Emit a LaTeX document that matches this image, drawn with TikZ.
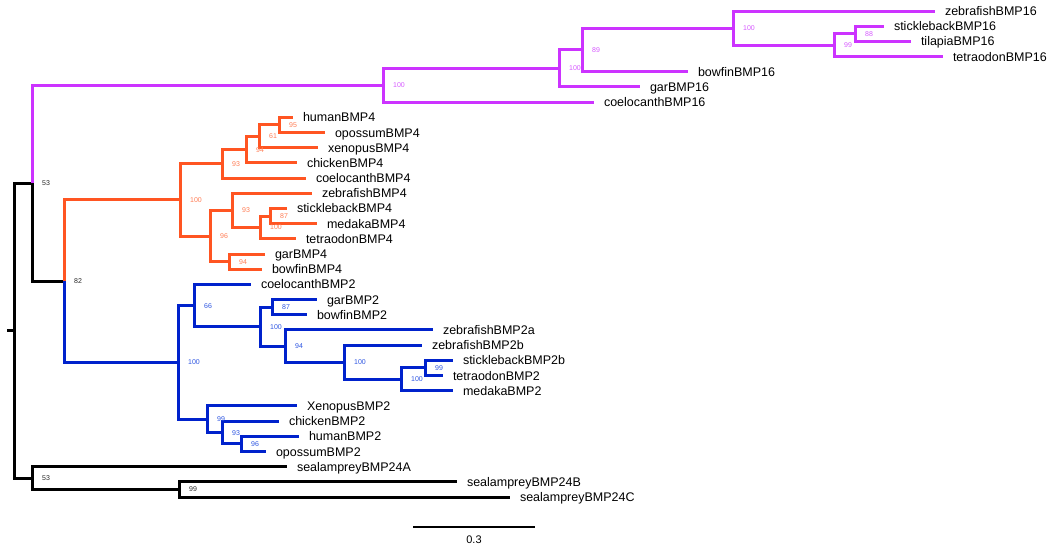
\documentclass[tikz,border=0pt]{standalone}
\usepackage{fontspec}
\newfontfamily\arialfont{Liberation Sans}
\usepackage{tikz}
\definecolor{sixteen}{RGB}{204,51,255}
\definecolor{four}{RGB}{255,85,34}
\definecolor{two}{RGB}{0,34,204}
\definecolor{sixteenlab}{RGB}{214,90,255}
\definecolor{fourlab}{RGB}{255,125,85}
\definecolor{twolab}{RGB}{45,85,225}
\definecolor{blacklab}{RGB}{40,40,40}
\tikzset{
	br/.style={line width=3pt},
	leaf/.style={anchor=west, inner xsep=10pt, inner ysep=0pt, outer sep=0pt, text height=9pt, text depth=0pt, font=\arialfont\fontsize{12.5}{14}\selectfont},
	bs/.style={anchor=west, inner sep=0pt, xshift=10pt, text height=5pt, text depth=0pt, font=\arialfont\fontsize{7}{8}\selectfont},
}

\begin{document}
\begin{tikzpicture}[x=1pt, y=-15.19pt]
		\useasboundingbox (0,0.2758) rectangle (1050,36.35);
		% leaves: name / end of branch / row / label
		\foreach \n/\x/\r/\t in {zfS/935/1/zebrafishBMP16, stS/884/2/sticklebackBMP16, tiS/911/3/tilapiaBMP16,
			teS/943/4/tetraodonBMP16, bfS/688/5/bowfinBMP16, gaS/640/6/garBMP16, coS/594/7/coelocanthBMP16,
			huF/293/8/humanBMP4, opF/325/9/opossumBMP4, xeF/318/10/xenopusBMP4, chF/297/11/chickenBMP4,
			coF/306/12/coelocanthBMP4, zfF/312/13/zebrafishBMP4, stF/287/14/sticklebackBMP4, meF/317/15/medakaBMP4,
			teF/296/16/tetraodonBMP4, gaF/265/17/garBMP4, bfF/262/18/bowfinBMP4,
			coT/251/19/coelocanthBMP2, gaT/317/20/garBMP2, bfT/307/21/bowfinBMP2, zaT/433/22/zebrafishBMP2a,
			zbT/422/23/zebrafishBMP2b, stT/453/24/sticklebackBMP2b, teT/443/25/tetraodonBMP2, meT/453/26/medakaBMP2,
			xeT/297/27/XenopusBMP2, chT/279/28/chickenBMP2, huT/299/29/humanBMP2, opT/266/30/opossumBMP2,
			laA/287/31/sealampreyBMP24A, laB/457/32/sealampreyBMP24B, laC/510/33/sealampreyBMP24C}
			\node[leaf] (\n) at (\x,\r) {\t};
		% inner nodes (row = mean of the children)
		\coordinate (stub) at (7,22.04);
		\coordinate (k0) at (14,22.04);
		\coordinate (k1) at (32,12.34);
		\coordinate (k2) at (64,18.78);
		\coordinate (k3) at (32,31.75);
		\coordinate (k4) at (179,32.5);
		\coordinate (m1) at (383,5.89);  \coordinate (m2) at (559,4.78);  \coordinate (m3) at (582,3.5625);
		\coordinate (m4) at (733,2.125); \coordinate (m5) at (834,3.25);  \coordinate (m6) at (855,2.5);
		\coordinate (o1) at (180,13.4375); \coordinate (o2) at (222,11.0625); \coordinate (o3) at (246,10.125);
		\coordinate (o4) at (259,9.25);    \coordinate (o5) at (279,8.5);     \coordinate (o6) at (210,15.8125);
		\coordinate (o7) at (232,14.125);  \coordinate (o8) at (260,15.25);   \coordinate (o9) at (270,14.5);
		\coordinate (o10) at (229,17.5);
		\coordinate (b1) at (178,24.13);  \coordinate (b2) at (194,20.39);  \coordinate (b3) at (260,21.78);
		\coordinate (b4) at (272,20.5);   \coordinate (b5) at (285,23.0625); \coordinate (b6) at (344,24.125);
		\coordinate (b7) at (401,25.25);  \coordinate (b8) at (425,24.5);   \coordinate (b9) at (207,27.875);
		\coordinate (b10) at (222,28.75); \coordinate (b11) at (241,29.5);
		% branches
		\draw[br] (stub) -- (k0);
		\foreach \p/\c in {k0/k1, k0/k3, k1/k2, k3/laA, k3/k4, k4/laB, k4/laC}
			\draw[br] (\p) |- (\c);
		\foreach \p/\c in {k1/m1, m1/m2, m1/coS, m2/m3, m2/gaS, m3/m4, m3/bfS, m4/zfS, m4/m5, m5/m6, m5/teS, m6/stS, m6/tiS}
			\draw[br, sixteen] (\p) |- (\c);
		\foreach \p/\c in {k2/o1, o1/o2, o1/o6, o2/o3, o2/coF, o3/o4, o3/chF, o4/o5, o4/xeF, o5/huF, o5/opF,
			o6/o7, o6/o10, o7/zfF, o7/o8, o8/o9, o8/teF, o9/stF, o9/meF, o10/gaF, o10/bfF}
			\draw[br, four] (\p) |- (\c);
		\foreach \p/\c in {k2/b1, b1/b2, b1/b9, b2/coT, b2/b3, b3/b4, b3/b5, b4/gaT, b4/bfT, b5/zaT, b5/b6,
			b6/zbT, b6/b7, b7/b8, b7/meT, b8/stT, b8/teT, b9/xeT, b9/b10, b10/chT, b10/b11, b11/huT, b11/opT}
			\draw[br, two] (\p) |- (\c);
		% bootstrap values
		\foreach \n/\v in {k1/53, k2/82, k3/53, k4/99}
			\node[bs, blacklab] at (\n) {\v};
		\foreach \n/\v in {m1/100, m2/100, m3/89, m4/100, m5/99, m6/88}
			\node[bs, sixteenlab] at (\n) {\v};
		\foreach \n/\v in {o1/100, o2/93, o3/94, o4/61, o5/95, o6/96, o7/93, o8/100, o9/87, o10/94}
			\node[bs, fourlab] at (\n) {\v};
		\foreach \n/\v in {b1/100, b2/66, b3/100, b4/87, b5/94, b6/100, b7/100, b8/99, b9/99, b10/93, b11/96}
			\node[bs, twolab] at (\n) {\v};
		% scale bar
		\coordinate (sL) at (413,34.97);
		\coordinate (sR) at (535,34.97);
		\draw[line width=1.2pt] (sL) -- (sR);
		\node[font=\arialfont\fontsize{11}{12}\selectfont, inner sep=0pt] (scl) at (474,35.83) {0.3};
	\end{tikzpicture}
\end{document}
